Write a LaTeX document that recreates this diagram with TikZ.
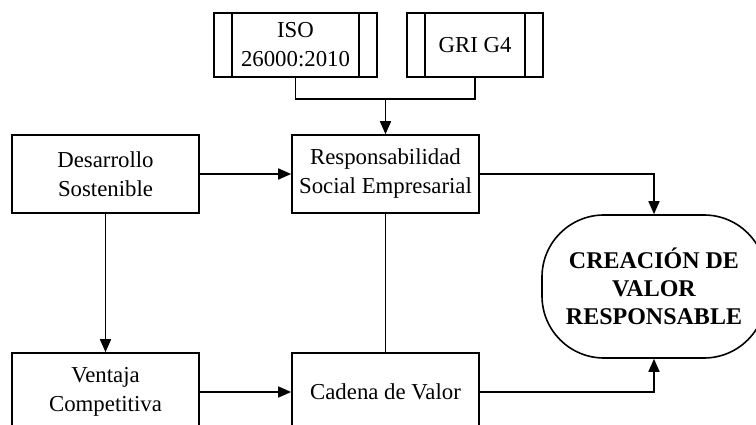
\documentclass[tikz,border=0pt]{standalone}
\usepackage{fontspec}
\setmainfont{Liberation Serif}
\usetikzlibrary{arrows.meta}
\begin{document}
\begin{tikzpicture}[x=1pt,y=-1pt,
  txt/.style={font=\fontsize{22.8}{29}\selectfont},
  box/.style={draw,line width=1.6pt,minimum width=187pt,minimum height=78pt,align=center,inner sep=0pt,txt},
  proc/.style={draw,line width=1.6pt,minimum height=64pt,align=center,inner sep=0pt,txt},
  endbox/.style={draw,line width=1.6pt,rounded corners=62pt,minimum width=224pt,minimum height=143pt,align=center,inner sep=0pt,font=\fontsize{24}{28}\selectfont\bfseries},
  arr/.style={-{Triangle[length=13pt,width=11pt]},line width=1.6pt},
  ln/.style={line width=1.6pt}]
\useasboundingbox (0,0) rectangle (756,425);
\clip (0,0) rectangle (756,425);
\node[box] (ds) at (105.5,174) {Desarrollo\\Sostenible};
\node[box] (rse) at (385.5,174) {Responsabilidad\\Social Empresarial};
\node[box] (vc) at (105.5,392) {Ventaja\\Competitiva};
\node[box] (cv) at (385.5,392) {Cadena de Valor};
\node[proc,minimum width=163pt] (iso) at (295.5,45) {ISO\\26000:2010};
\node[proc,minimum width=136pt] (gri) at (475,45) {GRI G4};
\foreach \n in {iso,gri}{
  \draw[ln] ([xshift=19pt]\n.north west) -- ([xshift=19pt]\n.south west);
  \draw[ln] ([xshift=-19pt]\n.north east) -- ([xshift=-19pt]\n.south east);
}
\node[endbox] (cvr) at (654,286.5) {CREACIÓN DE\\VALOR\\RESPONSABLE};
\coordinate (j) at (385.5,99);
\draw[ln] (iso.south) |- (j) -| (gri.south);
\draw[arr] (j) -- (rse.north);
\draw[arr] (ds) -- (rse);
\draw[arr] (ds) -- (vc);
\draw[arr] (vc) -- (cv);
\draw[ln] (rse) -- (cv);
\draw[arr] (rse.east) -| (cvr.north);
\draw[arr] (cv.east) -| (cvr.south);
\end{tikzpicture}
\end{document}
